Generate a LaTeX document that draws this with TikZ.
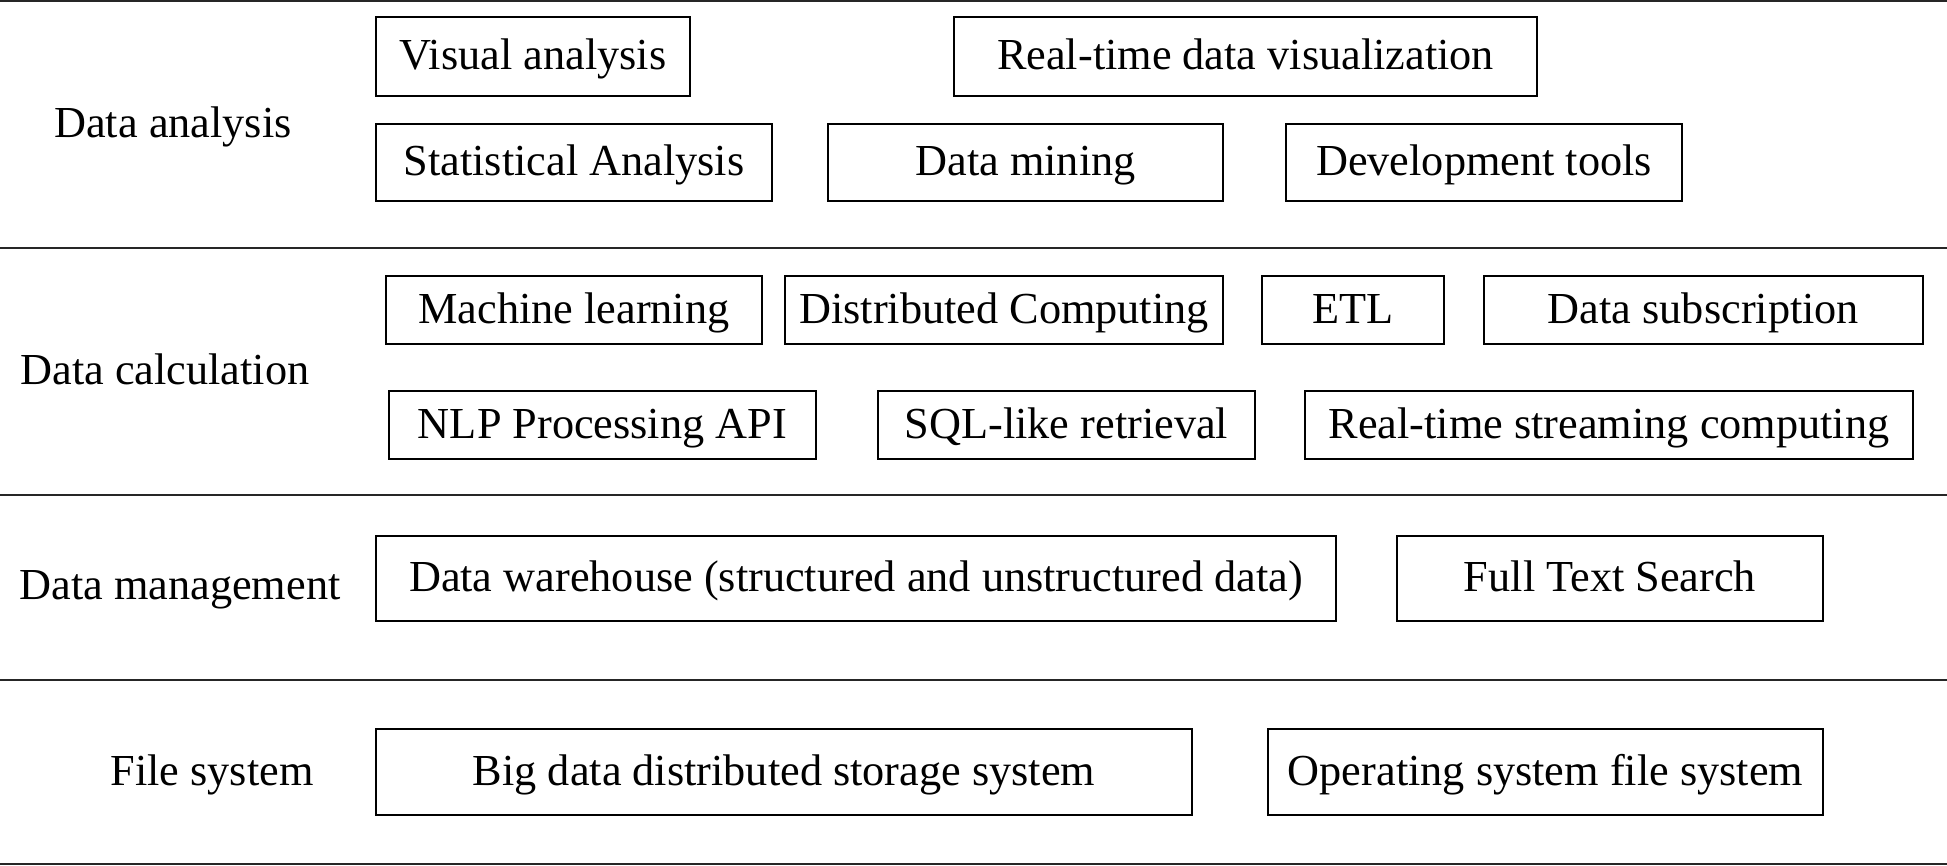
\documentclass[tikz,border=0pt]{standalone}
\usepackage{fontspec}
\setmainfont{Liberation Serif}
\begin{document}
\begin{tikzpicture}[box/.style={draw, rectangle, line width=0.6pt, inner sep=0pt},
                    every node/.style={font=\fontsize{12.6}{15}\selectfont, text height=0.8em, text depth=0.05em}]
                \useasboundingbox (0,0) rectangle (19.47,8.66);
                % layer separators
                \foreach \y in {8.65, 6.18, 3.71, 1.86, 0.02}
                    \draw[line width=0.8pt, black!85] (0,\y) -- (19.47,\y);
                
                \node (LA) at (1.73,7.42) {Data analysis};
                \node[box, minimum width=3.14cm, minimum height=0.79cm] (A1) at (5.33,8.095) {Visual analysis};
                \node[box, minimum width=5.83cm, minimum height=0.79cm] (A2) at (12.455,8.095) {Real-time data visualization};
                \node[box, minimum width=3.96cm, minimum height=0.77cm] (A3) at (5.74,7.035) {Statistical Analysis};
                \node[box, minimum width=3.95cm, minimum height=0.77cm] (A4) at (10.255,7.035) {Data mining};
                \node[box, minimum width=3.96cm, minimum height=0.77cm] (A5) at (14.84,7.035) {Development tools};
                
                \node (LC) at (1.65,4.95) {Data calculation};
                \node[box, minimum width=3.76cm, minimum height=0.68cm] (C1) at (5.74,5.56) {Machine learning};
                \node[box, minimum width=4.38cm, minimum height=0.68cm] (C2) at (10.04,5.56) {Distributed Computing};
                \node[box, minimum width=1.82cm, minimum height=0.68cm] (C3) at (13.53,5.56) {ETL};
                \node[box, minimum width=4.39cm, minimum height=0.68cm] (C4) at (17.035,5.56) {Data subscription};
                \node[box, minimum width=4.27cm, minimum height=0.68cm] (C5) at (6.025,4.41) {NLP Processing API};
                \node[box, minimum width=3.77cm, minimum height=0.68cm] (C6) at (10.665,4.41) {SQL-like retrieval};
                \node[box, minimum width=6.08cm, minimum height=0.68cm] (C7) at (16.09,4.41) {Real-time streaming computing};
                
                \node (LM) at (1.80,2.80) {Data management};
                \node[box, minimum width=9.60cm, minimum height=0.85cm] (M1) at (8.56,2.875) {Data warehouse (structured and unstructured data)};
                \node[box, minimum width=4.26cm, minimum height=0.85cm] (M2) at (16.10,2.875) {Full Text Search};
                
                \node (LF) at (2.12,0.94) {File system};
                \node[box, minimum width=8.16cm, minimum height=0.86cm] (F1) at (7.84,0.94) {Big data distributed storage system};
                \node[box, minimum width=5.55cm, minimum height=0.86cm] (F2) at (15.455,0.94) {Operating system file system};
            \end{tikzpicture}
\end{document}
